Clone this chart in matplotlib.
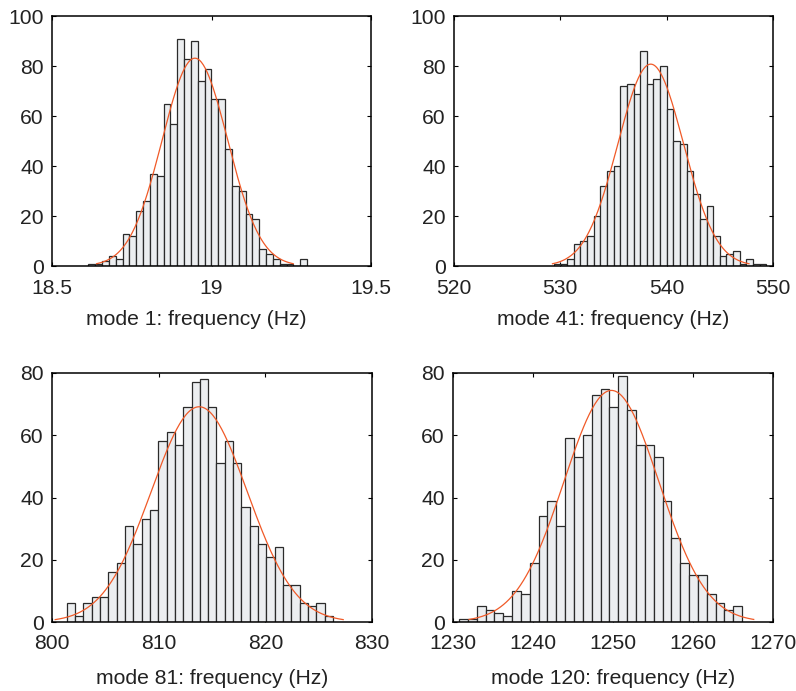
import numpy as np
import matplotlib
matplotlib.use('Agg')
import matplotlib.pyplot as plt

plt.rcParams['font.family'] = ['Liberation Sans', 'DejaVu Sans']
plt.rcParams['font.size'] = 15.2

# histogram counts per bin (32 bins each)
counts_m1 = [1, 1, 2, 4, 3, 13, 12, 22, 26, 37, 36, 65, 57, 91, 83, 90,
             74, 79, 67, 67, 47, 32, 30, 21, 19, 7, 5, 3, 1, 1, 0, 3]
counts_m41 = [1, 1, 3, 9, 10, 12, 20, 32, 38, 40, 72, 73, 69, 86, 73, 75,
              80, 63, 50, 49, 38, 29, 19, 24, 12, 4, 5, 6, 1, 3, 1, 1]
counts_m81 = [6, 2, 6, 8, 8, 16, 19, 31, 25, 33, 36, 58, 61, 57, 69, 77,
              78, 69, 51, 58, 51, 37, 31, 25, 21, 24, 12, 12, 6, 5, 6, 2]
counts_m120 = [1, 1, 5, 4, 3, 2, 10, 9, 19, 34, 39, 31, 59, 53, 60, 73,
               75, 69, 79, 68, 57, 57, 53, 39, 27, 19, 15, 15, 9, 6, 4, 5]

# first bin edge and bin width (Hz)
bin_start = [18.614, 529.4, 801.38, 1230.75]
bin_width = [0.02142, 0.624, 0.780, 1.106]

# normal fit: mean and std (Hz)
fit_mean = [18.948, 538.5, 813.8, 1249.8]
fit_std = [0.1027, 3.08, 4.50, 5.93]

xlims = [(18.5, 19.5), (520, 550), (800, 830), (1230, 1270)]
xticks = [[18.5, 19, 19.5], [520, 530, 540, 550], [800, 810, 820, 830],
          [1230, 1240, 1250, 1260, 1270]]
xticklabels = [['18.5', '19', '19.5'], ['520', '530', '540', '550'],
               ['800', '810', '820', '830'],
               ['1230', '1240', '1250', '1260', '1270']]
ymax = [100, 100, 80, 80]
xlabels = ['mode 1: frequency (Hz)', 'mode 41: frequency (Hz)',
           'mode 81: frequency (Hz)', 'mode 120: frequency (Hz)']
all_counts = [counts_m1, counts_m41, counts_m81, counts_m120]

W, H = 796, 691
# axes boxes in pixels: left, top, right, bottom
boxes = [(52, 16, 371, 266), (454, 16, 773, 266),
         (52, 373, 372, 622), (453, 373, 773, 622)]
tick_pad = [9.5, 9.5, 8.7, 8.7]
label_pad = [8.5, 8.5, 11.5, 11.5]
label_x = [0.451, 0.5, 0.5, 0.5]

fig = plt.figure(figsize=(W / 100, H / 100), dpi=100)
txt = '#222222'
for i in range(4):
    l, t, r, b = boxes[i]
    ax = fig.add_axes([l / W, 1 - b / H, (r - l) / W, (b - t) / H])
    counts = np.array(all_counts[i])
    edges = bin_start[i] + bin_width[i] * np.arange(len(counts) + 1)
    ax.bar(edges[:-1], counts, width=bin_width[i], align='edge',
           color='#eceef0', edgecolor='#2b2b2b', linewidth=0.9, zorder=2)
    mu, sd = fit_mean[i], fit_std[i]
    xx = np.linspace(mu - 3 * sd, mu + 3 * sd, 200)
    scale = counts.sum() * bin_width[i]
    yy = scale * np.exp(-0.5 * ((xx - mu) / sd) ** 2) / (sd * np.sqrt(2 * np.pi))
    ax.plot(xx, yy, color='#f05a28', linewidth=0.9, zorder=3)
    ax.set_xlim(*xlims[i])
    ax.set_ylim(0, ymax[i])
    ax.set_xticks(xticks[i])
    ax.set_xticklabels(xticklabels[i])
    ax.set_yticks(np.arange(0, ymax[i] + 1, 20))
    ax.tick_params(direction='in', top=True, right=True, length=3,
                   width=0.8, colors='black', labelcolor=txt)
    ax.tick_params(axis='x', pad=tick_pad[i])
    ax.tick_params(axis='y', pad=6)
    for s in ax.spines.values():
        s.set_linewidth(1.1)
    ax.set_xlabel(xlabels[i], color=txt, labelpad=label_pad[i])
    ax.xaxis.label.set_x(label_x[i])

fig.savefig('out.png', dpi=100)
